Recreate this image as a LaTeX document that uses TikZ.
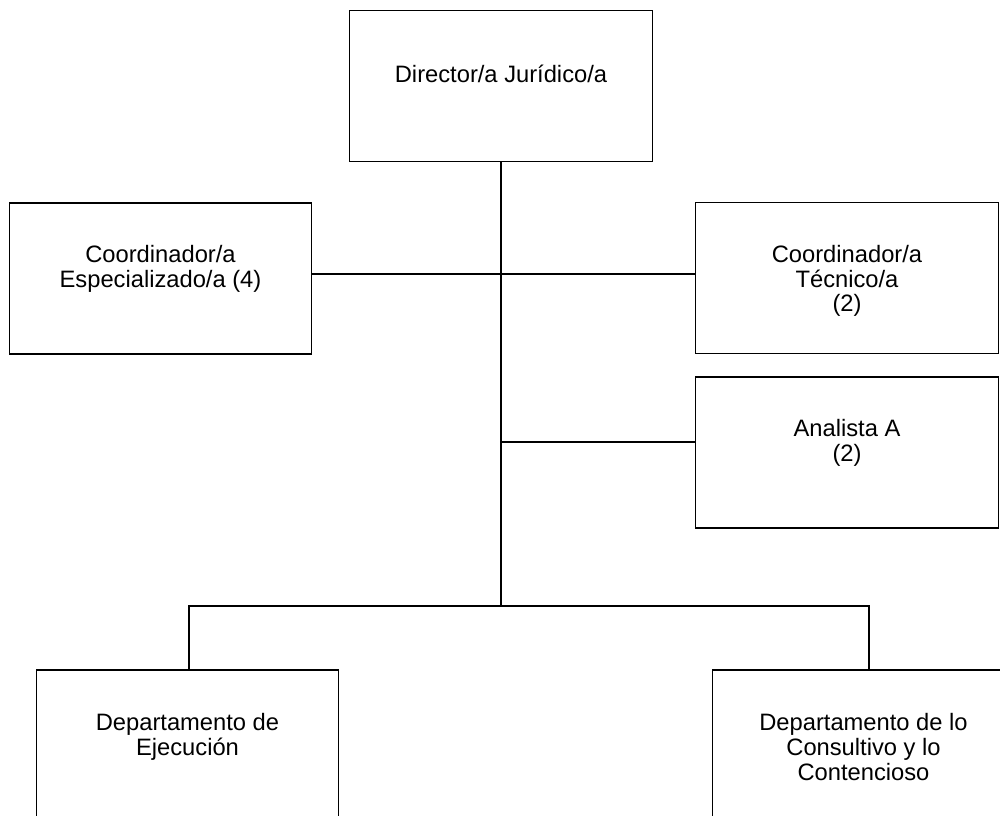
\documentclass[tikz,border=0pt]{standalone}
\usepackage{fontspec}
\setmainfont{Liberation Sans}
\usepackage{tikz}

\begin{document}
\begin{tikzpicture}[
        box/.style={rectangle, draw, line width=0.7pt,
                    minimum width=6.05cm, minimum height=3.02cm, inner sep=0pt},
        txt/.style={anchor=north, align=center, inner sep=0pt,
                    font=\fontsize{13.5pt}{14pt}\selectfont},
        link/.style={line width=0.6pt},
      ]
        \useasboundingbox (0,0) rectangle (20,16.32);

        \node[box, label={[txt, yshift=-1.1cm]north:{Director/a Jurídico/a}}]
              (dir) at (10.02,14.6) {};
        \node[box, label={[txt, yshift=-0.86cm]north:{Coordinador/a\\Especializado/a (4)}}]
              (esp) at (3.21,10.75) {};
        \node[box, label={[txt, yshift=-0.86cm]north:{Coordinador/a\\Técnico/a\\(2)}}]
              (tec) at (16.94,10.76) {};
        \node[box, label={[txt, yshift=-0.86cm]north:{Analista A\\(2)}}]
              (ana) at (16.94,7.27) {};
        \node[box, label={[txt, yshift=-0.88cm]north:{Departamento de\\Ejecución}}]
              (eje) at (3.75,1.41) {};
        \node[box, label={[txt, yshift=-0.88cm]north:{Departamento de lo\\Consultivo y lo\\Contencioso}}]
              (con) at (17.27,1.41) {};

        % tronco y ramas
        \coordinate (j1)  at (10.02,10.84);
        \coordinate (j2)  at (10.02,7.48);
        \coordinate (bus) at (10.02,4.2);
        \coordinate (busL) at (3.78,4.2);
        \coordinate (busR) at (17.38,4.2);

        \draw[link] (dir.south) -- (bus);
        \draw[link] (j1 -| esp.east) -- (j1 -| tec.west);
        \draw[link] (j2) -- (j2 -| ana.west);
        \draw[link] (busL |- eje.north) -- (busL) -- (busR) -- (busR |- con.north);
      \end{tikzpicture}
\end{document}
